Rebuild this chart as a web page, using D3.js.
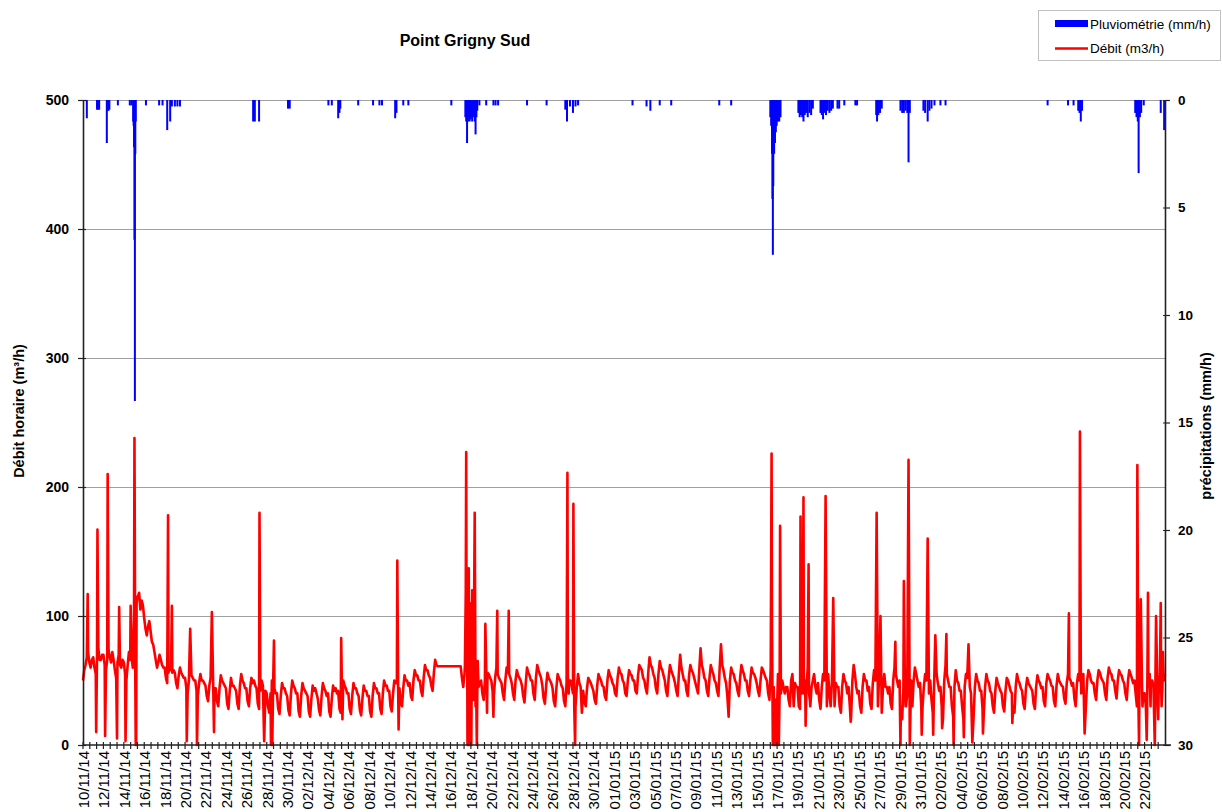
<!DOCTYPE html>
<html><head><meta charset="utf-8">
<script src="https://cdn.jsdelivr.net/npm/d3@7"></script>
<style>
body{margin:0;background:#fff}
svg{display:block}
text{font-family:"Liberation Sans",Arial,sans-serif;fill:#000}
</style>
</head><body>
<svg id="c" width="1222" height="812"></svg>
<script>
// ---------------- DATA ----------------
const chartTitle = "Point Grigny Sud";
const leftTitle = "Débit horaire (m³/h)";
const rightTitle = "précipitations (mm/h)";
const legendLabels = ["Pluviométrie (mm/h)", "Débit (m3/h)"];
const leftTicks = [0, 100, 200, 300, 400, 500];
const gridValues = [100, 200, 300, 400, 500];
const rightTicks = [0, 5, 10, 15, 20, 25, 30];
const xDomain = ["2014-11-10 00", "2015-02-24 00"];
const xLabelStart = "2014-11-10 00";
const xLabelEnd = "2015-02-22 00";

// flow read every 3 hours (00h,03h,...,21h), one row per day from 10/11/14
const debitStart = "2014-11-10 00";
const debitStepHours = 3;
const debitBase = [
  50,58,62,68,72,64,60,66,   68,60,55,70,75,66,66,70,   70,62,58,66,74,68,64,72,
  66,58,52,64,70,62,60,66,   64,55,50,62,72,66,70,64,   100,60,110,115,118,105,112,108,
  98,90,85,92,96,88,80,78,   72,66,60,64,70,66,62,60,   60,52,48,56,62,58,56,58,
  56,48,44,54,60,56,54,52,   52,44,40,50,58,54,52,50,   50,42,38,48,55,50,50,48,
  46,38,34,46,52,48,48,44,   44,34,30,44,54,50,48,46,   44,32,28,42,52,46,46,44,
  42,32,28,46,55,50,48,44,   44,34,30,44,52,48,50,46,   44,32,28,42,50,46,46,42,
  40,30,25,40,50,46,44,40,   40,28,24,38,48,44,44,40,   38,27,23,40,50,46,44,40,
  40,26,22,38,48,44,42,40,   38,26,22,36,46,42,44,40,   36,27,23,38,48,44,42,38,
  40,26,22,36,46,42,44,40,   42,28,25,40,50,46,44,40,   40,28,24,38,48,44,44,40,
  38,27,23,36,46,42,42,38,   38,26,22,38,48,44,44,40,   40,28,24,40,50,46,46,42,
  42,30,26,40,50,48,48,44,   44,34,30,44,54,50,50,46,   48,38,35,50,58,54,54,50,
  50,42,38,52,62,58,58,54,   52,46,42,56,66,62,61,61,   61,61,61,61,61,61,61,61,
  61,61,61,61,61,61,61,61,   61,52,45,55,60,40,20,50,   40,30,35,50,55,40,45,48,
  50,40,35,50,60,56,55,52,   50,42,38,52,60,55,52,50,   48,40,35,50,60,56,55,52,
  48,40,35,50,58,54,52,50,   46,38,33,48,60,56,54,50,   50,40,35,52,62,58,55,52,
  46,36,32,46,56,52,50,48,   44,34,30,44,55,52,50,46,   44,34,30,48,55,50,50,46,
  40,30,30,45,55,48,45,42,   42,34,30,44,52,50,48,45,   42,35,32,46,55,52,50,46,
  45,38,35,50,58,54,52,48,   46,40,38,52,60,56,55,50,   48,40,38,50,58,55,54,50,
  50,42,40,54,62,60,58,52,   50,44,40,56,68,62,60,55,   52,44,40,55,65,60,58,54,
  50,42,38,52,62,58,55,52,   48,42,38,55,70,60,55,50,   50,42,38,54,62,58,56,52,
  48,44,40,58,75,62,58,52,   50,42,38,52,62,58,55,50,   48,42,38,60,78,62,58,52,
  48,38,35,50,60,56,55,50,   48,42,38,52,62,58,55,50,   50,42,38,50,60,56,55,52,
  48,42,38,50,60,58,55,52,   50,40,35,45,55,40,0,20,    30,40,45,50,50,45,40,45,
  45,35,30,50,55,30,48,45,   45,30,28,45,55,40,50,45,   60,40,30,45,50,55,45,40,
  48,35,28,45,55,50,60,40,   55,40,30,50,58,45,48,45,   45,30,25,45,55,50,48,40,
  45,30,22,50,62,55,45,40,   42,30,25,45,55,50,50,42,   45,32,28,48,58,50,60,40,
  55,40,25,45,55,45,45,40,   45,32,28,50,60,55,50,45,   50,30,20,45,60,30,40,45,
  45,40,30,50,60,55,50,45,   48,30,30,45,55,50,60,40,   50,35,25,45,58,55,48,42,
  45,30,20,50,62,55,50,45,   45,30,22,45,58,50,48,42,   42,30,20,45,55,52,50,45,
  40,25,22,45,55,50,48,42,   42,28,25,45,55,50,48,42,   40,30,25,42,52,48,45,42,
  40,30,26,42,52,50,46,42,   40,30,25,45,55,50,48,44,   42,32,28,44,52,48,46,44,
  42,32,28,45,54,50,48,44,   45,34,30,48,55,52,50,46,   45,34,30,46,55,50,48,46,
  45,36,32,48,55,52,50,46,   48,36,30,48,55,50,60,45,   55,40,30,50,58,55,50,48,
  48,40,35,50,58,56,52,50,   48,40,35,52,60,56,55,50,   50,42,36,50,58,55,54,50,
  48,40,35,50,58,55,52,48,   50,40,30,45,55,50,45,40,   40,30,25,45,55,50,50,45,
  30,60,45,40,55,45,45,50,
  55
];

// storm peaks and sudden drops of the flow (date hour, m3/h)
const debitEvents = [
  ["2014-11-10 11",117],["2014-11-11 07",10],["2014-11-11 10",167],
  ["2014-11-12 04",7],["2014-11-12 10",210],["2014-11-13 08",5],["2014-11-13 13",107],
  ["2014-11-14 04",3],["2014-11-14 16",108],["2014-11-14 21",60],
  ["2014-11-15 01",238],["2014-11-15 03",50],["2014-11-15 04",0],["2014-11-15 05",0],["2014-11-15 08",115],
  ["2014-11-18 08",178],["2014-11-18 17",108],
  ["2014-11-20 04",3],["2014-11-20 12",90],["2014-11-21 04",0],
  ["2014-11-22 15",103],["2014-11-22 20",10],
  ["2014-11-27 07",180],["2014-11-27 18",3],
  ["2014-11-28 10",0],["2014-11-28 13",0],["2014-11-28 17",81],
  ["2014-12-05 07",83],["2014-12-05 10",20],
  ["2014-12-10 19",143],["2014-12-10 22",12],
  ["2014-12-17 10",62],["2014-12-17 12",120],["2014-12-17 13",227],["2014-12-17 14",60],
  ["2014-12-17 15",125],["2014-12-17 16",0],["2014-12-17 17",130],["2014-12-17 19",137],
  ["2014-12-17 20",0],["2014-12-17 21",110],["2014-12-17 22",60],
  ["2014-12-18 01",0],["2014-12-18 03",120],["2014-12-18 05",40],["2014-12-18 09",180],
  ["2014-12-18 11",30],["2014-12-18 14",0],["2014-12-18 16",65],
  ["2014-12-19 10",94],["2014-12-19 14",25],["2014-12-20 05",22],["2014-12-20 14",104],
  ["2014-12-21 17",104],
  ["2014-12-27 11",211],["2014-12-27 14",40],["2014-12-28 01",187],["2014-12-28 03",30],
  ["2014-12-28 05",0],["2014-12-28 21",25],
  ["2015-01-12 06",22],
  ["2015-01-16 09",60],["2015-01-16 11",226],["2015-01-16 12",90],["2015-01-16 14",0],
  ["2015-01-16 16",45],["2015-01-16 18",0],["2015-01-16 20",35],["2015-01-16 22",0],
  ["2015-01-17 02",55],["2015-01-17 04",0],["2015-01-17 07",170],["2015-01-17 09",40],
  ["2015-01-19 07",177],["2015-01-19 10",40],["2015-01-19 14",192],["2015-01-19 19",15],
  ["2015-01-20 02",140],["2015-01-20 05",35],
  ["2015-01-21 18",193],["2015-01-21 21",30],["2015-01-22 12",114],["2015-01-22 15",30],
  ["2015-01-24 05",18],
  ["2015-01-26 18",180],["2015-01-26 21",30],["2015-01-27 03",100],["2015-01-27 06",25],
  ["2015-01-28 14",80],
  ["2015-01-29 02",0],["2015-01-29 10",127],["2015-01-29 14",30],["2015-01-29 21",221],
  ["2015-01-30 00",0],["2015-01-30 03",50],
  ["2015-01-31 04",8],["2015-01-31 18",160],["2015-01-31 21",40],
  ["2015-02-01 07",8],["2015-02-01 12",85],["2015-02-02 04",13],["2015-02-02 14",86],
  ["2015-02-03 07",0],["2015-02-04 07",6],["2015-02-04 18",78],["2015-02-05 03",2],
  ["2015-02-06 04",9],["2015-02-09 01",17],
  ["2015-02-14 14",102],["2015-02-15 16",243],["2015-02-15 19",40],["2015-02-16 03",9],
  ["2015-02-21 07",217],["2015-02-21 11",0],["2015-02-21 15",113],["2015-02-21 19",30],
  ["2015-02-22 05",4],["2015-02-22 08",118],["2015-02-22 14",30],
  ["2015-02-23 00",0],["2015-02-23 03",100],["2015-02-23 08",20],["2015-02-23 14",110],
  ["2015-02-23 16",30],["2015-02-23 19",72]
];

// rainfall (date hour, mm/h)
const pluie = [
  ["2014-11-10 09",0.85],
  ["2014-11-11 09",0.45],["2014-11-11 11",0.45],["2014-11-11 14",0.45],
  ["2014-11-12 08",2.0],["2014-11-12 10",0.5],["2014-11-12 12",0.5],["2014-11-12 14",0.45],
  ["2014-11-13 10",0.25],
  ["2014-11-14 14",0.25],["2014-11-14 18",0.25],["2014-11-14 22",1.0],["2014-11-14 23",1.2],
  ["2014-11-15 00",2.2],["2014-11-15 01",6.5],["2014-11-15 02",14.0],["2014-11-15 03",2.5],["2014-11-15 04",1.0],
  ["2014-11-16 04",0.25],["2014-11-17 11",0.25],["2014-11-17 19",0.25],
  ["2014-11-18 06",1.4],["2014-11-18 13",1.0],["2014-11-18 17",0.3],["2014-11-19 00",0.3],
  ["2014-11-19 06",0.3],["2014-11-19 12",0.3],
  ["2014-11-26 16",1.0],["2014-11-26 20",1.0],["2014-11-27 06",1.0],
  ["2014-11-30 02",0.4],["2014-11-30 06",0.4],
  ["2014-12-04 01",0.25],["2014-12-04 09",0.25],
  ["2014-12-05 00",0.85],["2014-12-05 03",0.6],["2014-12-05 05",0.4],
  ["2014-12-06 23",0.25],["2014-12-08 10",0.25],["2014-12-09 01",0.25],["2014-12-09 07",0.25],
  ["2014-12-10 14",0.85],["2014-12-10 17",0.6],
  ["2014-12-11 09",0.25],["2014-12-11 21",0.25],["2014-12-16 02",0.25],
  ["2014-12-17 11",0.8],["2014-12-17 13",1.0],["2014-12-17 15",2.0],["2014-12-17 17",1.0],
  ["2014-12-17 19",0.8],["2014-12-17 21",1.0],["2014-12-17 23",0.9],["2014-12-18 01",0.8],
  ["2014-12-18 03",1.0],["2014-12-18 05",0.7],["2014-12-18 07",0.8],["2014-12-18 09",1.0],
  ["2014-12-18 11",1.6],["2014-12-18 13",0.8],["2014-12-18 15",0.5],
  ["2014-12-18 20",0.25],["2014-12-19 12",0.25],["2014-12-20 05",0.25],["2014-12-20 10",0.25],
  ["2014-12-20 16",0.25],["2014-12-23 12",0.25],["2014-12-25 10",0.25],
  ["2014-12-27 06",0.45],["2014-12-27 10",1.0],["2014-12-27 17",0.3],["2014-12-28 00",0.6],
  ["2014-12-28 06",0.3],["2014-12-28 12",0.25],
  ["2015-01-02 20",0.25],["2015-01-04 05",0.3],["2015-01-04 14",0.5],["2015-01-05 12",0.25],
  ["2015-01-06 15",0.25],["2015-01-11 08",0.25],["2015-01-12 12",0.25],
  ["2015-01-16 08",0.8],["2015-01-16 10",1.2],["2015-01-16 12",2.5],["2015-01-16 13",4.6],
  ["2015-01-16 14",7.2],["2015-01-16 15",4.0],["2015-01-16 17",2.5],["2015-01-16 19",2.0],
  ["2015-01-16 21",1.5],["2015-01-16 23",1.2],["2015-01-17 02",1.0],["2015-01-17 05",1.0],
  ["2015-01-17 08",0.8],
  ["2015-01-19 02",0.6],["2015-01-19 05",0.8],["2015-01-19 08",0.7],["2015-01-19 11",0.8],
  ["2015-01-19 14",1.0],["2015-01-19 17",0.7],["2015-01-19 20",0.6],["2015-01-20 00",0.8],
  ["2015-01-20 04",0.6],["2015-01-20 08",0.7],["2015-01-20 12",0.4],
  ["2015-01-21 06",0.6],["2015-01-21 09",0.7],["2015-01-21 12",0.9],["2015-01-21 15",0.6],
  ["2015-01-21 19",0.7],["2015-01-21 23",0.5],["2015-01-22 03",0.6],["2015-01-22 07",0.5],
  ["2015-01-22 11",0.4],["2015-01-22 22",0.4],["2015-01-23 02",0.4],["2015-01-23 14",0.25],
  ["2015-01-24 16",0.25],["2015-01-24 20",0.25],
  ["2015-01-26 17",0.7],["2015-01-26 19",1.0],["2015-01-26 22",0.7],["2015-01-27 02",0.6],
  ["2015-01-27 06",0.4],
  ["2015-01-29 02",0.5],["2015-01-29 06",0.6],["2015-01-29 10",0.6],["2015-01-29 14",0.5],
  ["2015-01-29 18",0.6],["2015-01-29 21",2.9],["2015-01-30 00",0.6],
  ["2015-01-31 08",0.5],["2015-01-31 12",0.6],["2015-01-31 18",1.0],["2015-01-31 22",0.5],
  ["2015-02-01 03",0.4],["2015-02-01 10",0.25],["2015-02-02 00",0.25],["2015-02-02 12",0.25],
  ["2015-02-12 12",0.25],["2015-02-14 12",0.25],["2015-02-15 01",0.25],
  ["2015-02-15 12",0.5],["2015-02-15 15",0.6],["2015-02-15 18",1.0],["2015-02-15 21",0.5],
  ["2015-02-21 02",0.6],["2015-02-21 05",0.8],["2015-02-21 08",1.0],["2015-02-21 10",3.4],
  ["2015-02-21 13",0.8],["2015-02-21 16",0.6],["2015-02-21 22",0.25],
  ["2015-02-23 14",0.6],["2015-02-23 22",1.4]
];

// ---------------- CHART ----------------
const parse = d3.timeParse("%Y-%m-%d %H");
const svg = d3.select("#c");
const L = 83, R = 1165, T = 100, B = 745;

const x = d3.scaleTime().domain(xDomain.map(parse)).range([L, R]);
const yL = d3.scaleLinear().domain([0, 500]).range([B, T]);
const yR = d3.scaleLinear().domain([0, 30]).range([T, B]);

// build flow series
const t0 = parse(debitStart);
const pts = new Map();
debitBase.forEach((v, i) => {
  const t = d3.timeHour.offset(t0, i * debitStepHours);
  pts.set(+t, {t, v});
});
debitEvents.forEach(([s, v]) => { const t = parse(s); pts.set(+t, {t, v}); });
const flow = Array.from(pts.values()).sort((a, b) => a.t - b.t);

// grid
svg.append("g").selectAll("line").data(gridValues).join("line")
  .attr("x1", L).attr("x2", R)
  .attr("y1", d => yL(d) + 0.5).attr("y2", d => yL(d) + 0.5)
  .attr("stroke", "#a0a0a0").attr("stroke-width", 1);

// rain bars
svg.append("g").selectAll("rect").data(pluie).join("rect")
  .attr("x", d => x(parse(d[0])) - 1)
  .attr("y", yR(0))
  .attr("width", 2)
  .attr("height", d => yR(d[1]) - yR(0))
  .attr("fill", "#0000ff");

// flow line
svg.append("path").datum(flow)
  .attr("fill", "none").attr("stroke", "#ff0000").attr("stroke-width", 2.6)
  .attr("stroke-linejoin", "round")
  .attr("d", d3.line().x(d => x(d.t)).y(d => yL(d.v)));

// x axis
const labelDates = d3.timeDay.range(parse(xLabelStart), d3.timeHour.offset(parse(xLabelEnd), 1), 2);
const minorTicks = d3.timeHour.range(parse(xDomain[0]), parse(xDomain[1]), 16);
const xa = svg.append("g").attr("transform", `translate(0,${B})`)
  .call(d3.axisBottom(x).tickValues(labelDates).tickFormat(d3.timeFormat("%d/%m/%y")).tickSize(0).tickSizeOuter(0));
xa.select(".domain").remove();
xa.selectAll("text")
  .attr("transform", "rotate(-90)")
  .attr("text-anchor", "end")
  .attr("x", -6).attr("y", 0).attr("dy", "0.36em")
  .style("font-size", "15px");
svg.append("g").selectAll("line").data(minorTicks).join("line")
  .attr("x1", d => x(d)).attr("x2", d => x(d))
  .attr("y1", B - 3).attr("y2", B + 4)
  .attr("stroke", "#222").attr("stroke-width", 1.2);
svg.append("line").attr("x1", L).attr("x2", R + 6).attr("y1", B).attr("y2", B)
  .attr("stroke", "#222").attr("stroke-width", 1.6);

// left axis
const la = svg.append("g").attr("transform", `translate(${L},0)`)
  .call(d3.axisLeft(yL).tickValues(leftTicks).tickSize(5).tickSizeOuter(0).tickPadding(9));
la.select(".domain").attr("stroke", "#222").attr("stroke-width", 1.6);
la.selectAll(".tick line").attr("stroke", "#222").attr("stroke-width", 1.2);
la.selectAll(".tick").append("line").attr("x2", 3).attr("stroke", "#222").attr("stroke-width", 1.2);
la.selectAll("text").style("font-size", "14px").style("font-weight", "bold");

// right axis
const ra = svg.append("g").attr("transform", `translate(${R},0)`)
  .call(d3.axisRight(yR).tickValues(rightTicks).tickSize(5).tickSizeOuter(0).tickPadding(8));
ra.select(".domain").attr("stroke", "#222").attr("stroke-width", 1.6);
ra.selectAll(".tick line").attr("stroke", "#222").attr("stroke-width", 1.2);
ra.selectAll(".tick").append("line").attr("x2", -2).attr("stroke", "#222").attr("stroke-width", 1.2);
ra.selectAll("text").style("font-size", "13.5px").style("font-weight", "bold");

// titles
svg.append("text").attr("x", 465).attr("y", 46).attr("text-anchor", "middle")
  .style("font-size", "16px").style("font-weight", "bold").text(chartTitle);
svg.append("text").attr("transform", "translate(24,411) rotate(-90)").attr("text-anchor", "middle")
  .style("font-size", "14.5px").style("font-weight", "bold").text(leftTitle);
svg.append("text").attr("transform", "translate(1211,426) rotate(-90)").attr("text-anchor", "middle")
  .style("font-size", "14.5px").style("font-weight", "bold").text(rightTitle);

// legend
const lg = svg.append("g");
lg.append("rect").attr("x", 1038.5).attr("y", 10.5).attr("width", 182).attr("height", 50)
  .attr("fill", "#fff").attr("stroke", "#c0c0c0");
lg.append("rect").attr("x", 1055).attr("y", 20).attr("width", 33).attr("height", 7).attr("fill", "#0000ff");
lg.append("line").attr("x1", 1055).attr("x2", 1088).attr("y1", 48.5).attr("y2", 48.5)
  .attr("stroke", "#ff0000").attr("stroke-width", 2.6);
lg.append("text").attr("x", 1090).attr("y", 29).style("font-size", "13.5px").text(legendLabels[0]);
lg.append("text").attr("x", 1090).attr("y", 53).style("font-size", "13.5px").text(legendLabels[1]);
</script>
</body></html>
